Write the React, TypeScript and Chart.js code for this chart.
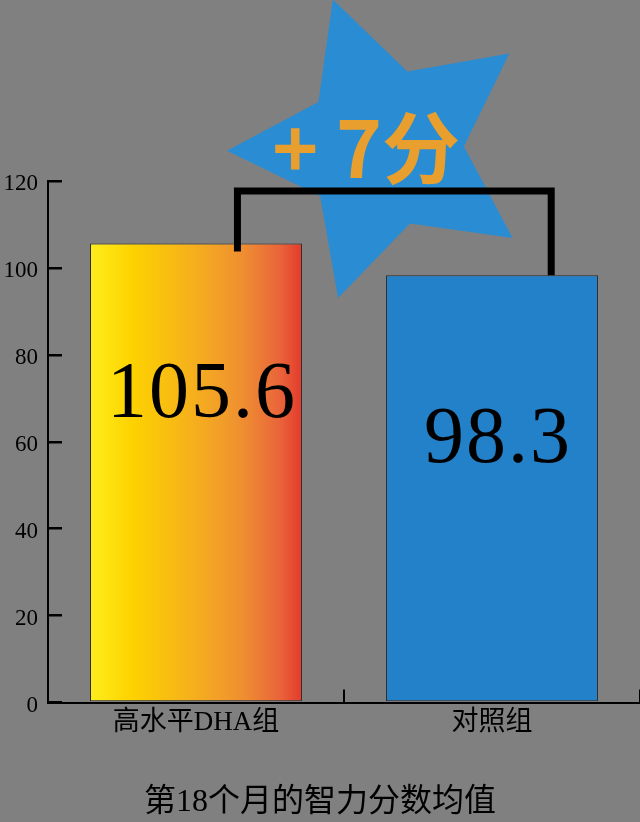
import { useEffect, useRef } from 'react';
import { Chart, registerables } from 'chart.js';

Chart.register(...registerables);

// data
const groups = ['高水平DHA组', '对照组'];
const scores = [105.6, 98.3];
const scoreLabels = ['105.6', '98.3'];
const yTicks = [0, 20, 40, 60, 80, 100, 120];
const gainText = '+ 7分';
const bracketLevel = 117.7;
const chartTitle = '第18个月的智力分数均值';

// how far below each bar top its number sits (px)
const labelDrop = [152, 166];

const serif = "'Liberation Serif', 'Noto Sans CJK SC', serif";

// star, bracket and the numbers written on the bars
const decorations = {
  id: 'decorations',
  beforeDatasetsDraw(chart: Chart) {
    const { ctx } = chart;
    const x = chart.scales.x;
    const y = chart.scales.y;
    const cx = x.getPixelForValue(0.635);
    const cy = y.getPixelForValue(127.6);
    const outer = 157;
    const inner = 80;
    ctx.save();
    ctx.beginPath();
    for (let i = 0; i < 10; i++) {
      const r = i % 2 === 0 ? outer : inner;
      const a = ((-109 + i * 36) * Math.PI) / 180;
      const px = cx + r * Math.cos(a);
      const py = cy + r * Math.sin(a);
      if (i === 0) ctx.moveTo(px, py);
      else ctx.lineTo(px, py);
    }
    ctx.closePath();
    ctx.fillStyle = '#2a8cd2';
    ctx.fill();
    ctx.restore();
  },
  afterDatasetsDraw(chart: Chart) {
    const { ctx } = chart;
    const x = chart.scales.x;
    const y = chart.scales.y;
    const meta = chart.getDatasetMeta(0);

    // bracket between the two bars
    const top = y.getPixelForValue(bracketLevel);
    const xl = x.getPixelForValue(0.14);
    const xr = x.getPixelForValue(1.2);
    ctx.save();
    ctx.beginPath();
    ctx.moveTo(xl, y.getPixelForValue(scores[0]) + 8);
    ctx.lineTo(xl, top);
    ctx.lineTo(xr, top);
    ctx.lineTo(xr, y.getPixelForValue(scores[1]));
    ctx.lineWidth = 7;
    ctx.lineJoin = 'miter';
    ctx.strokeStyle = '#000';
    ctx.stroke();

    // + 7分
    ctx.fillStyle = '#e99f2e';
    ctx.font = "bold 78px 'Noto Sans CJK SC', sans-serif";
    ctx.textAlign = 'center';
    ctx.textBaseline = 'middle';
    ctx.fillText(gainText, x.getPixelForValue(0.575), y.getPixelForValue(127.6));

    // values on the bars
    ctx.fillStyle = '#000';
    ctx.font = `80px ${serif}`;
    (ctx as any).letterSpacing = '2px';
    meta.data.forEach((bar: any, i: number) => {
      ctx.fillText(scoreLabels[i], bar.x + 6, bar.y + labelDrop[i]);
    });
    ctx.restore();
  },
};

export default function App() {
  const canvasRef = useRef<HTMLCanvasElement>(null);
  const chartRef = useRef<Chart | null>(null);

  useEffect(() => {
    if (!canvasRef.current) return;
    const ctx = canvasRef.current.getContext('2d');
    if (!ctx) return;

    if (chartRef.current) chartRef.current.destroy();

    const warmFill = (c: any) => {
      const chart = c.chart;
      const x = chart.scales.x;
      if (!chart.chartArea || !x) return '#fdd000';
      const center = x.getPixelForValue(0);
      const half = (x.width / groups.length) * 0.358;
      const g = chart.ctx.createLinearGradient(center - half, 0, center + half, 0);
      g.addColorStop(0, '#fdee1c');
      g.addColorStop(0.2, '#fdd200');
      g.addColorStop(0.5, '#f5ae1e');
      g.addColorStop(0.72, '#ef8f31');
      g.addColorStop(0.9, '#e9633a');
      g.addColorStop(1, '#e43a2b');
      return g;
    };

    chartRef.current = new Chart(ctx, {
      type: 'bar',
      data: {
        labels: groups,
        datasets: [
          {
            data: scores,
            backgroundColor: (c: any) => (c.dataIndex === 0 ? warmFill(c) : '#2381c9'),
            borderColor: '#2a2a2a',
            borderWidth: 1,
            borderSkipped: false,
            barPercentage: 0.716,
            categoryPercentage: 1,
          },
        ],
      },
      options: {
        responsive: false,
        animation: false,
        layout: { padding: { top: 181, left: 0, right: 0, bottom: 0 } },
        plugins: {
          legend: { display: false },
          tooltip: { enabled: false },
          title: {
            display: true,
            position: 'bottom',
            text: chartTitle,
            color: '#000',
            font: { family: serif, size: 32, weight: 'normal' },
            padding: { top: 1, bottom: 0 },
          },
        },
        scales: {
          x: {
            afterFit: (s: any) => {
              s.height = 80;
            },
            grid: {
              drawOnChartArea: false,
              drawTicks: true,
              tickLength: -13,
              color: '#000',
              lineWidth: 2,
            },
            border: { color: '#000', width: 2 },
            ticks: {
              color: '#000',
              padding: 17,
              font: { family: serif, size: 27 },
            },
          },
          y: {
            min: 0,
            max: 120,
            afterFit: (s: any) => {
              s.width = 48;
            },
            afterBuildTicks: (s: any) => {
              s.ticks = yTicks.map((v) => ({ value: v }));
            },
            grid: {
              drawOnChartArea: false,
              drawTicks: true,
              tickLength: -14,
              color: '#000',
              lineWidth: 2.5,
            },
            border: { color: '#000', width: 2 },
            ticks: {
              color: '#000',
              padding: 24,
              labelOffset: 3,
              font: { family: serif, size: 23 },
            },
          },
        },
      },
      plugins: [decorations],
    });

    return () => {
      if (chartRef.current) {
        chartRef.current.destroy();
        chartRef.current = null;
      }
    };
  }, []);

  return (
    <div
      style={{
        position: 'absolute',
        left: 0,
        top: 0,
        width: 640,
        height: 822,
        background: '#808080',
      }}
    >
      <canvas ref={canvasRef} width={640} height={822} />
    </div>
  );
}
